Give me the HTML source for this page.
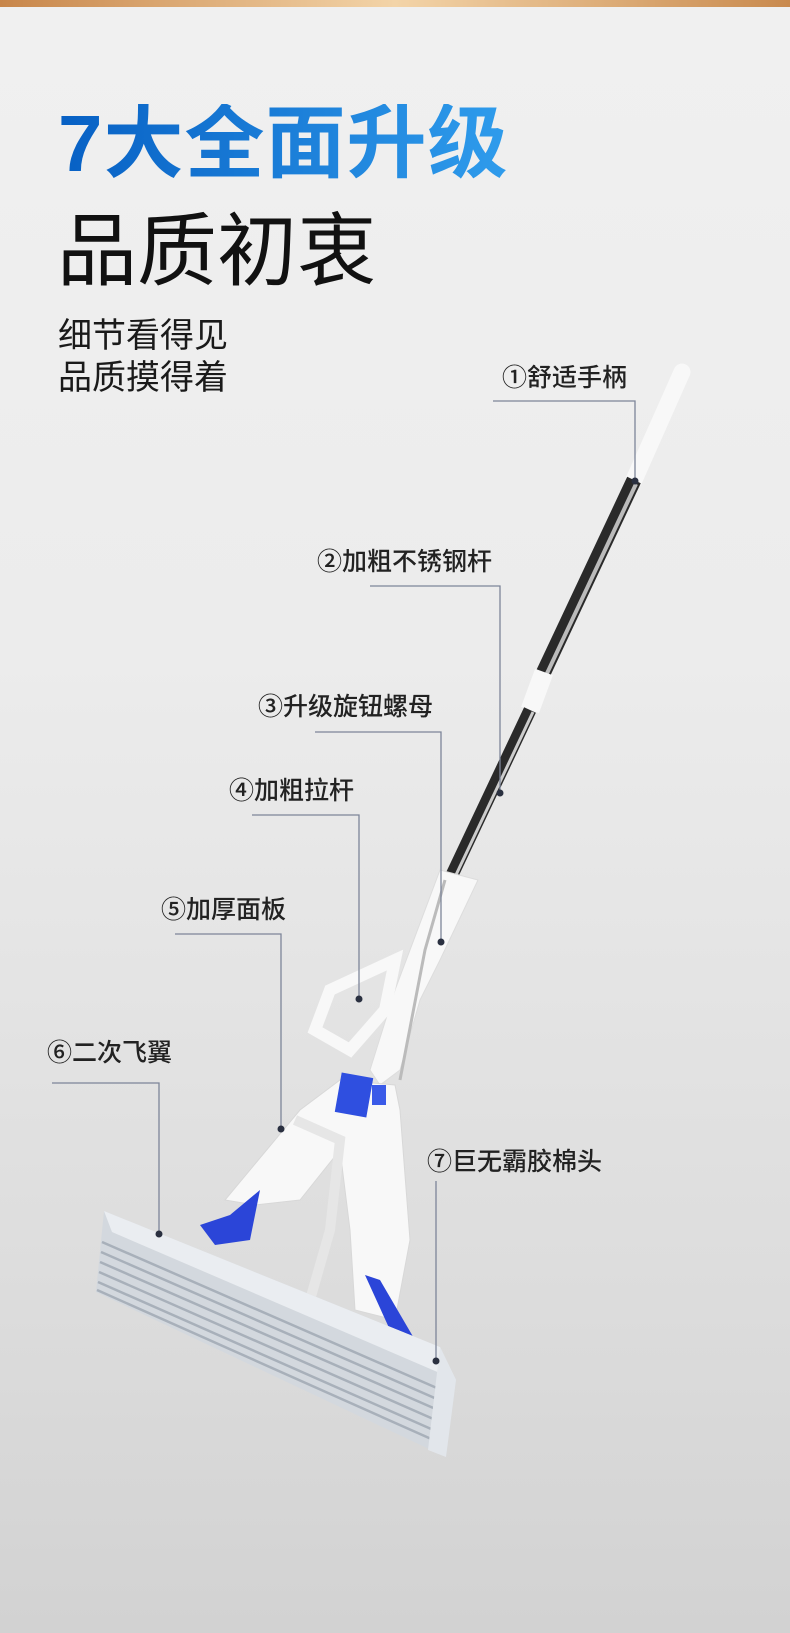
<!DOCTYPE html>
<html><head><meta charset="utf-8"><style>
html,body{margin:0;padding:0}
body{width:790px;height:1633px;overflow:hidden;background:linear-gradient(#f0f0f0 0%,#ececec 40%,#dcdcdc 80%,#d2d2d2 100%);position:relative;font-family:"Liberation Sans","Noto Sans CJK SC",sans-serif}
.bar{position:absolute;left:0;top:0;width:790px;height:7px;background:linear-gradient(90deg,#c8864a,#f3d4a8 50%,#c98a4e)}
.t1{position:absolute;left:58px;top:104px;font-size:80px;font-weight:bold;letter-spacing:1px;line-height:1;background:linear-gradient(90deg,#0760c4,#2f9cec);-webkit-background-clip:text;background-clip:text;color:transparent}
.t2{position:absolute;left:57px;top:212px;font-size:80px;line-height:1;color:#111;letter-spacing:0px}
.t3{position:absolute;left:58px;top:315px;font-size:34px;line-height:42px;color:#1a1a1a}
.lb{position:absolute;font-size:25px;line-height:1;color:#222;font-weight:500}
</style></head><body>
<div class="bar"></div>
<div class="t1">7大全面升级</div>
<div class="t2">品质初衷</div>
<div class="t3">细节看得见<br>品质摸得着</div>
<svg width="790" height="1633" style="position:absolute;left:0;top:0">
<line x1="682" y1="372" x2="634" y2="480" stroke="#f8f8f8" stroke-width="17" stroke-linecap="round"/>
<line x1="634" y1="480" x2="540" y2="680" stroke="#2a2a2a" stroke-width="15"/>
<line x1="636" y1="484" x2="542" y2="684" stroke="#bbb" stroke-width="4"/>
<line x1="544" y1="672" x2="530" y2="710" stroke="#f8f8f8" stroke-width="19"/>
<line x1="530" y1="710" x2="452" y2="875" stroke="#2a2a2a" stroke-width="13"/>
<line x1="533" y1="712" x2="455" y2="877" stroke="#ccc" stroke-width="3"/>
<path d="M440 870 L478 880 L440 960 L420 1000 L400 1070 L380 1085 L370 1070 L395 990 Z" fill="#f8f8f8" stroke="#ddd"/>
<path d="M395 960 L330 990 L315 1030 L350 1050 L385 1010 Z" fill="none" stroke="#f8f8f8" stroke-width="12"/>
<path d="M445 880 L425 950 L400 1080" stroke="#bbb" stroke-width="3" fill="none"/>
<path d="M340 1080 L395 1085 L400 1110 L410 1240 L395 1320 L355 1310 L350 1230 L340 1150 L300 1200 L255 1205 L225 1200 L300 1110 Z" fill="#f8f8f8" stroke="#d8d8d8"/>
<path d="M295 1120 L340 1140 L330 1230 L310 1300" stroke="#e6e6e6" stroke-width="10" fill="none"/>
<rect x="338" y="1075" width="32" height="40" fill="#2f4fe0" transform="rotate(10 354 1095)"/>
<rect x="372" y="1085" width="14" height="20" fill="#3a5ae8"/>
<path d="M200 1225 L230 1215 L260 1190 L250 1240 L215 1245 Z" fill="#2b45d8"/>
<path d="M365 1275 L380 1280 L415 1340 L440 1365 L420 1365 L390 1330 Z" fill="#2b45d8"/>
<path d="M104 1211 L440 1347 L456 1380 L446 1457 L96 1292 Z" fill="#d3d8de"/>
<path d="M104 1211 L440 1347 L456 1380 L112 1232 Z" fill="#eaedf1"/>
<g stroke="#a8b0ba" stroke-width="2.5">
<line x1="102" y1="1242" x2="446" y2="1392"/><line x1="101" y1="1252" x2="446" y2="1403"/>
<line x1="100" y1="1262" x2="447" y2="1414"/><line x1="99" y1="1272" x2="447" y2="1425"/>
<line x1="98" y1="1282" x2="447" y2="1436"/><line x1="97" y1="1290" x2="447" y2="1446"/>
</g>
<path d="M440 1347 L456 1380 L446 1457 L428 1450 Z" fill="#e2e6eb"/>
<g stroke="#7d8599" stroke-width="1.3" fill="none">
<path d="M493 401 H635 V481"/>
<path d="M370 586 H500 V793"/>
<path d="M315 732 H441 V942"/>
<path d="M252 815 H359 V999"/>
<path d="M175 934 H281 V1129"/>
<path d="M52 1083 H159 V1234"/>
<path d="M436 1181 V1361"/>
</g>
<g fill="#2a3040">
<circle cx="635" cy="481" r="3.5"/><circle cx="500" cy="793" r="3.5"/><circle cx="441" cy="942" r="3.5"/>
<circle cx="359" cy="999" r="3.5"/><circle cx="281" cy="1129" r="3.5"/><circle cx="159" cy="1234" r="3.5"/><circle cx="436" cy="1361" r="3.5"/>
</g>
</svg>
<div class="lb" style="left:502px;top:366px">①舒适手柄</div>
<div class="lb" style="left:317px;top:550px">②加粗不锈钢杆</div>
<div class="lb" style="left:258px;top:695px">③升级旋钮螺母</div>
<div class="lb" style="left:229px;top:779px">④加粗拉杆</div>
<div class="lb" style="left:161px;top:898px">⑤加厚面板</div>
<div class="lb" style="left:47px;top:1041px">⑥二次飞翼</div>
<div class="lb" style="left:427px;top:1150px">⑦巨无霸胶棉头</div>
</body></html>
